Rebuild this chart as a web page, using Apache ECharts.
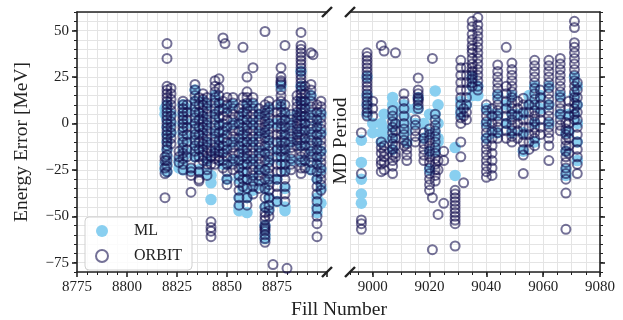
<!DOCTYPE html>
<html><head><meta charset="utf-8">
<script src="https://cdn.jsdelivr.net/npm/echarts/dist/echarts.min.js"></script>
<style>html,body{margin:0;padding:0;background:#fff}#c{width:623px;height:320px}</style>
</head><body><div id="c"></div>
<script>
const seriesNames = ['ML', 'ORBIT'];
const xTicksLeft = [8775, 8800, 8825, 8850, 8875];
const xTicksRight = [9000, 9020, 9040, 9060, 9080];
const yTicks = [-75, -50, -25, 0, 25, 50];

const leftFills = [8819, 8820, 8822, 8826, 8828, 8830, 8832, 8834, 8836, 8838, 8840, 8842, 8844, 8846, 8848, 8849, 8850, 8853, 8856, 8858, 8860, 8863, 8866, 8869, 8871, 8873, 8875, 8877, 8879, 8880, 8882, 8885, 8887, 8889, 8892, 8893, 8895, 8897];
const leftOrbit = [
  [-18,-20,-24,-27,-40],
  [43,35,20,18,16,14,12,10,8,6,4,2,0,-2,-4,-6,-8,-10,-12,-14,-17,-20,-23,-26],
  [19,16,13,10,7,4,1,-2,-5,-8,-11],
  [-15,-18,-21],
  [12,10,8,6,4,2,0,-2,-4,-7,-10,-13,-16,-19,-22,-25],
  [10,6,2,-2,-6,-10,-14,-18],
  [-24,-26,-28,-37],
  [21,18,15,12,9,6,3,0,-3,-6,-9,-12,-15,-18],
  [14,10,6,2,-2,-6,-10,-14,-18,-22,-26,-30,-31],
  [16,13,10,7,4,1,-2,-5,-8,-11,-14,-17,-20],
  [14,11,8,5,2,-1,-4,-7,-10,-13,-16,-19,-22,-25,-28],
  [-53,-56,-58,-61,-15,-18,-22],
  [23,20,17,14,11,8,5,2,-1,-4,-7,-10,-13,-16,-19,-22],
  [24,19,15,11,7,3,-1,-5,-9,-12,-15,-18,-20],
  [46,12,8,4,0,-4,-8,-12,-16,-20,-24],
  [43],
  [14,10,6,2,-2,-6,-10,-14,-18,-22,-26,-30,-33],
  [14,11,8,5,2,-1,-4,-7,-10,-13,-16,-19,-22,-25],
  [8,4,0,-4,-8,-12,-16,-20,-24,-28,-32,-36,-40,-44],
  [41,14,10,6,2,-2,-6,-10,-14,-18,-22,-26,-30,-34],
  [25,17,14,11,8,5,2,-1,-4,-7,-10,-13,-16,-19,-22,-26,-30,-35,-40,-44],
  [30,14,11,8,5,2,-1,-4,-7,-10,-13,-16,-19,-22,-25,-28,-31,-34,-38],
  [8,5,2,-1,-4,-7,-10,-13,-16,-19,-22,-25,-28,-31,-35],
  [49.5,10,7,4,1,-2,-5,-8,-12,-16,-20,-25,-30,-35,-40,-45,-48,-50,-52,-55,-56,-57,-58,-60,-62,-64],
  [12,9,6,3,0,-3,-6,-9,-12,-15,-18,-21,-24,-27,-30,-33,-36,-40,-44,-47,-50],
  [-76],
  [10,6,2,-2,-6,-10,-14,-18,-22,-26,-30,-34,-38,-42],
  [30,25,23,22,21,18,15,12,9,6,3,0,-3,-6,-9,-12,-15,-18,-22,-26],
  [42,10,6,2,-2,-6,-10,-14,-18,-22,-26,-30,-34,-38,-42],
  [-78],
  [5,2,-1,-4,-7,-10,-13,-16,-19,-22,-25],
  [15,12,9,6,3,0,-3,-6,-9,-12],
  [49,42,40,38,36,34,32,30,28,26,24,22,20,18,16,14,12,10,8,6,4,2,0,-3,-6,-9,-12,-15,-18,-21,-24,-27],
  [20,16,12,8,4,0,-4,-8,-12,-16,-20,-24],
  [38,21,18,15,12,9,6,3,0,-3,-6,-9,-12,-15,-18,-21,-25],
  [37],
  [10,6,2,-2,-6,-10,-14,-18,-22,-26,-30,-34,-38,-42,-46,-50,-54,-61],
  [12,9,6,3,0,-3,-6,-9,-12,-15,-18,-21,-24,-27,-30,-33,-36]
];
const leftML = [
  [8,5,-22,-25],
  [10,6,2,-2,-6,-10,-14,-18,-22,-26],
  [5,0,-5],
  [-20,-24],
  [10,5,0,-5,-10,-15,-20,-25],
  [8,0,-8,-16],
  [-25],
  [18,12,6,0,-6,-12,-18],
  [5,-5,-15,-25],
  [12,4,-4,-12],
  [10,0,-10,-20,-27],
  [-28,-32,-41],
  [15,5,-5,-15],
  [10,0,-10],
  [-5,-15,-22],
  [],
  [8,-2,-12,-22,-30],
  [10,0,-10,-20],
  [0,-10,-20,-30,-40,-45,-47],
  [5,-5,-15,-25,-35],
  [10,0,-10,-20,-30,-40,-48],
  [10,0,-10,-20,-30,-36],
  [5,-5,-15,-25,-33],
  [5,-5,-15,-25,-35,-45,-55,-60,-62],
  [8,0,-10,-20,-30,-40,-46],
  [],
  [0,-15,-30,-42],
  [20,10,0,-10,-20],
  [5,-5,-15,-25,-35,-45,-47],
  [],
  [0,-10,-20],
  [5,-5],
  [28,20,12,4,-4,-12,-20],
  [10,0,-10,-20],
  [15,5,-5,-15,-25],
  [],
  [0,-10,-20,-30,-40,-45,-48],
  [5,-5,-15,-25,-35,-43]
];

const rightFills = [8996, 8998, 9000, 9003, 9004, 9007, 9008, 9011, 9012, 9015, 9016, 9018, 9020, 9021, 9022, 9023, 9025, 9029, 9031, 9032, 9033, 9035, 9037, 9040, 9042, 9044, 9047, 9049, 9051, 9053, 9055, 9057, 9059, 9062, 9066, 9068, 9069, 9071, 9072];
const rightOrbit = [
  [-5,-27,-52,-54,-57],
  [38,36,34,32,30,28,26,24,22,20,18,16,14,12,10,8,6,4],
  [12,8,4],
  [42,-10,-13,-16,-20,-22,-26],
  [39,-12,-15,-18,-21,-25],
  [7,4,1,-2,-5,-8,-11,-14,-17,-20,-23,-27],
  [38,0,-4,-8,-12,-16,-18],
  [16,12,8,4,0,-3,-6,-9,-12],
  [-11,-14,-17,-20],
  [2,-1,-4,-7,-10],
  [24.5,18,16,14,13,12,10,8],
  [-5,-8,-11,-14,-17,-20],
  [-3,-6,-9,-12,-15,-18,-21,-24,-27,-30,-33,-36],
  [35,-40,-68],
  [5,2,-1,-4,-7,-10,-13,-16,-19,-22,-25,-28,-31],
  [-49,-20,-25],
  [-43,-20,-15],
  [-36,-38,-40,-42,-44,-46,-48,-50,-52,-54,-66],
  [34,30,26,22,18,14,10,6,3,0,-10,-18],
  [-32,8,4],
  [30,26,22,18,14,10,6,2],
  [55,52,48,45,42,40,38,35,32,30,28,26,24,22,20],
  [57,53,50,47,44,41,38,35,32,29,26,23,20,18],
  [10,7,4,1,-2,-5,-8,-11,-14,-17,-20,-23,-26,-29],
  [8,4,0,-4,-8,-12,-16,-20,-24,-28],
  [31.5,28,25,22,19,16,13,10,7,4,1,-2,-5,-8],
  [41,20,16,12,8,4,0,-4,-8],
  [32.5,29,26,23,20,17,14,11,8,5,2,-1,-4,-7,-10],
  [12,8,4,0,-4,-8],
  [13.6,10,6,2,-2,-6,-10,-14,-17,-27],
  [10,6,2,-2,-6,-10,-14],
  [34,31,28,25,22,19,16,13,10,7,4,1,-2,-5,-8,-12],
  [18,14,10,6,2,-2,-6],
  [34,31,28,25,22,19,16,13,10,7,4,1,-2,-5,-8,-12,-20],
  [35,32,29,26,23,20,17,14,11,8,5,2,-1,-4],
  [0.5,-3,-6,-9,-12,-15,-18,-21,-24,-27,-30,-37.5,-57],
  [12,8,4,0,-4,-8,-12,-16],
  [55,51.6,43.5,41,38,35,32,29,26,23,20,17,14,11,8,5,2],
  [22,18,14,10,6,2,-2,-6,-10,-14,-18,-22,-27]
];
const rightML = [
  [-9,-21,-30,-38,-43],
  [25,15,10,5],
  [0,-5],
  [0,-5,-10],
  [5,-3,-8],
  [14,10,4,-2,-8,-14],
  [7,0],
  [10,5,0,-5],
  [8,2,-4,-10],
  [8,0],
  [14,8],
  [0,-8],
  [5,-5,-15,-25],
  [],
  [17.5,5,-5,-15],
  [10,0,-8,-10],
  [],
  [-13,-28],
  [12,8,5],
  [],
  [10],
  [25,20,15],
  [20,15],
  [8,0,-8],
  [5,-5],
  [15,5,-5],
  [10,0],
  [15,5,-5],
  [5],
  [5,-5,-15],
  [15,10],
  [20,10,0,-10],
  [15,8],
  [20,10,0],
  [15,5],
  [-5,-15,-25,-28],
  [5,-5],
  [25,15,5],
  [20,10,0,-10,-20]
];

function pairs(fills, vals) {
  const out = [];
  fills.forEach((f, i) => vals[i].forEach(v => out.push([f, v])));
  return out;
}

const FONT = 'Liberation Serif';
const INK = '#222';
const GRIDC = '#e4e4e4';
const ML_COLOR = '#89CFF0';
const ORBIT_COLOR = 'rgba(20,16,80,0.74)';
const fmtMinus = v => String(v).replace('-', '\u2212');

const LEFT_RECT = {left: 77, top: 12, width: 250, height: 260};
const RIGHT_RECT = {left: 350, top: 12, width: 250, height: 260};
const grids = [LEFT_RECT, RIGHT_RECT, LEFT_RECT, RIGHT_RECT];
const labelStyle = {fontFamily: FONT, fontSize: 15, color: INK};
const lineStyle = {color: INK, width: 1.6};
const thin = {color: INK, width: 1};
const gridLine = {show: true, lineStyle: {color: GRIDC, width: 1}};
const off = {show: false};

const xAxes = [
  {gridIndex: 0, type: 'value', position: 'bottom', min: 8775, max: 8900, interval: 25,
   axisLine: {show: true, onZero: false, lineStyle}, axisTick: {show: true, length: 5, lineStyle},
   minorTick: {show: true, splitNumber: 5, length: 3, lineStyle: thin},
   splitLine: gridLine, minorSplitLine: gridLine,
   axisLabel: Object.assign({showMaxLabel: false, margin: 8,
     formatter: v => xTicksLeft.includes(v) ? String(v) : ''}, labelStyle)},
  {gridIndex: 0, type: 'value', position: 'top', min: 8775, max: 8900,
   axisLine: {show: true, onZero: false, lineStyle}, axisTick: off, axisLabel: off, splitLine: off},
  {gridIndex: 1, type: 'value', position: 'bottom', min: 8992, max: 9080, splitNumber: 5,
   axisLine: {show: true, onZero: false, lineStyle}, axisTick: {show: true, length: 5, lineStyle},
   splitLine: gridLine,
   axisLabel: Object.assign({showMinLabel: false, margin: 8,
     formatter: v => xTicksRight.includes(v) ? String(v) : ''}, labelStyle)},
  {gridIndex: 1, type: 'value', position: 'top', min: 8992, max: 9080,
   axisLine: {show: true, onZero: false, lineStyle}, axisTick: off, axisLabel: off, splitLine: off},
  {gridIndex: 2, type: 'value', position: 'bottom', min: 8775, max: 8900,
   axisLine: off, axisTick: off, axisLabel: off, splitLine: off},
  {gridIndex: 3, type: 'value', position: 'bottom', min: 8992, max: 9080, splitNumber: 18,
   axisLine: {show: false, onZero: false}, axisTick: {show: true, length: 3, lineStyle: thin},
   splitLine: gridLine, axisLabel: off}
];

const yAxes = [
  {gridIndex: 0, type: 'value', position: 'left', min: -80, max: 60, interval: 5,
   axisLine: {show: true, onZero: false, lineStyle}, axisTick: {show: true, length: 3, lineStyle: thin},
   splitLine: gridLine,
   axisLabel: Object.assign({margin: 8, formatter: v => yTicks.includes(v) ? fmtMinus(v) : ''}, labelStyle)},
  {gridIndex: 1, type: 'value', position: 'right', min: -80, max: 60, interval: 5,
   axisLine: {show: true, onZero: false, lineStyle}, axisTick: {show: true, length: 3, lineStyle: thin},
   splitLine: gridLine, axisLabel: off},
  {gridIndex: 2, type: 'value', position: 'left', min: -80, max: 60, interval: 5,
   axisLine: {show: false, onZero: false}, axisTick: {show: true, length: 5, customValues: yTicks, lineStyle},
   splitLine: off, axisLabel: off},
  {gridIndex: 3, type: 'value', position: 'right', min: -80, max: 60, interval: 5,
   axisLine: {show: false, onZero: false}, axisTick: {show: true, length: 5, customValues: yTicks, lineStyle},
   splitLine: off, axisLabel: off}
];

const mlStyle = {symbol: 'circle', symbolSize: 11.5, itemStyle: {color: ML_COLOR, opacity: 1}};
const orbitStyle = {symbol: 'circle', symbolSize: 9,
  itemStyle: {color: 'rgba(0,0,0,0)', borderColor: ORBIT_COLOR, borderWidth: 2}};

const series = [
  Object.assign({type: 'scatter', name: seriesNames[0], xAxisIndex: 0, yAxisIndex: 0, data: pairs(leftFills, leftML), z: 2}, mlStyle),
  Object.assign({type: 'scatter', name: seriesNames[0], xAxisIndex: 2, yAxisIndex: 1, data: pairs(rightFills, rightML), z: 2}, mlStyle),
  Object.assign({type: 'scatter', name: seriesNames[1], xAxisIndex: 0, yAxisIndex: 0, data: pairs(leftFills, leftOrbit), z: 3}, orbitStyle),
  Object.assign({type: 'scatter', name: seriesNames[1], xAxisIndex: 2, yAxisIndex: 1, data: pairs(rightFills, rightOrbit), z: 3}, orbitStyle)
];

const breakMark = (cx, cy) => ({type: 'line', z: 100,
  shape: {x1: cx - 5, y1: cy + 5, x2: cx + 5, y2: cy - 5},
  style: {stroke: INK, lineWidth: 2.4}});

const chart = echarts.init(document.getElementById('c'), null, {renderer: 'canvas'});
chart.setOption({
  animation: false,
  backgroundColor: '#fff',
  grid: grids,
  xAxis: xAxes,
  yAxis: yAxes,
  legend: {
    left: 85, top: 217, orient: 'vertical',
    data: [
      {name: seriesNames[0], icon: 'circle', itemStyle: {color: ML_COLOR}},
      {name: seriesNames[1], icon: 'circle', itemStyle: {color: 'rgba(0,0,0,0)', borderColor: ORBIT_COLOR, borderWidth: 2}}
    ],
    itemWidth: 14, itemHeight: 12, itemGap: 9,
    padding: [6, 10, 6, 10],
    borderColor: '#d0d0d0', borderWidth: 1, borderRadius: 4,
    backgroundColor: 'rgba(255,255,255,0.85)',
    textStyle: {fontFamily: FONT, fontSize: 16, color: INK, padding: [0, 0, 0, 20]}
  },
  graphic: [
    {type: 'text', x: 22, y: 142, rotation: Math.PI / 2,
     style: {text: 'Energy Error [MeV]', font: '19.5px "' + FONT + '"', fill: INK, align: 'center', verticalAlign: 'middle'}},
    {type: 'text', x: 341, y: 141, rotation: Math.PI / 2,
     style: {text: 'MD Period', font: '19.5px "' + FONT + '"', fill: INK, align: 'center', verticalAlign: 'middle'}},
    {type: 'text', x: 339, y: 310,
     style: {text: 'Fill Number', font: '19.5px "' + FONT + '"', fill: INK, align: 'center', verticalAlign: 'middle'}},
    breakMark(327, 12), breakMark(327, 272), breakMark(350, 12), breakMark(350, 272)
  ],
  series
});
</script></body></html>
